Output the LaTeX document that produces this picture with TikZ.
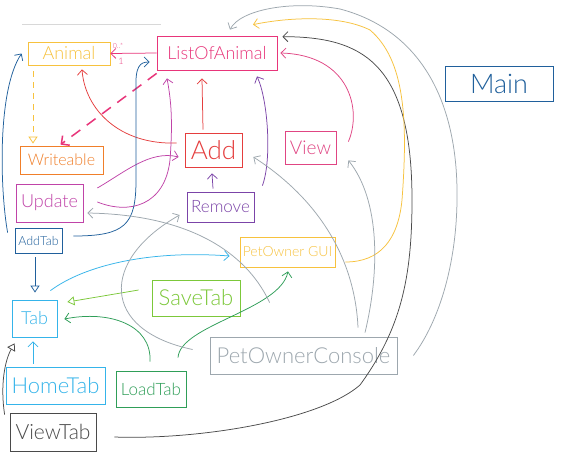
\documentclass[tikz,border=0pt]{standalone}
\usepackage{fontspec}
\IfFontExistsTF{Lato Light}{\setmainfont{Lato Light}}{\setmainfont{Lato}}
\usetikzlibrary{arrows.meta,calc}
\definecolor{cyel}{HTML}{F7C23E}
\definecolor{cpink}{HTML}{E8357A}
\definecolor{corange}{HTML}{F07F2A}
\definecolor{cmag}{HTML}{C043A8}
\definecolor{cdblue}{HTML}{20609C}
\definecolor{cred}{HTML}{E53E3E}
\definecolor{cpurple}{HTML}{7B44A8}
\definecolor{cview}{HTML}{E04583}
\definecolor{clblue}{HTML}{35B4EA}
\definecolor{clgreen}{HTML}{7CC83A}
\definecolor{cdgreen}{HTML}{2F9E58}
\definecolor{cgray}{HTML}{9DA7AE}
\definecolor{cdgray}{HTML}{4A4A4A}
\definecolor{cline}{HTML}{D8D8D8}
\newcommand\myfs[1]{\fontsize{#1}{#1}\selectfont}
\begin{document}
\begin{tikzpicture}[x=1pt,y=-1pt,
  box/.style={draw, rectangle, inner sep=0pt, line width=0.75pt},
  conn/.style={line width=0.75pt},
  barb/.style={-{Straight Barb[length=5pt,width=10pt,line width=0.75pt]}},
  tri/.style={-{Triangle[open,length=7pt,width=9pt,line width=0.75pt]}}]
\useasboundingbox[fill=white] (0,0) rectangle (569,466);
\draw[cline, line width=0.8pt] (22,24) -- (161,24);

% nodes
\node[box, draw=cyel, text=cyel, minimum width=82pt, minimum height=23pt, font=\myfs{18}] (an) at (69,53.5) {Animal};
\node[box, draw=cpink, text=cpink, minimum width=120pt, minimum height=34pt, font=\myfs{18}] (lst) at (217,53) {ListOfAnimal};
\node[box, draw=corange, text=corange, minimum width=83pt, minimum height=28pt, font=\myfs{16}] (wr) at (61.5,160) {Writeable};
\node[box, draw=cmag, text=cmag, minimum width=67pt, minimum height=38pt, font=\myfs{18}] (up) at (49.5,203) {Update};
\node[box, draw=cdblue, text=cdblue, minimum width=47pt, minimum height=25pt, font=\myfs{12.5}] (at) at (38.5,240.5) {AddTab};
\node[box, draw=cred, text=cred, minimum width=57pt, minimum height=34pt, font=\myfs{26}] (add) at (213.5,150) {Add};
\node[box, draw=cpurple, text=cpurple, minimum width=67pt, minimum height=30pt, font=\myfs{17}] (rm) at (220.5,207) {Remove};
\node[box, draw=cview, text=cview, minimum width=51pt, minimum height=33pt, font=\myfs{19}] (vw) at (310.5,147.5) {View};
\node[box, draw=cdblue, text=cdblue, minimum width=108pt, minimum height=35pt, font=\myfs{27}] (mn) at (499,83.5) {Main};
\node[box, draw=cyel, text=cyel, minimum width=95pt, minimum height=30pt, font=\myfs{14}] (gui) at (287.5,252) {PetOwner GUI};
\node[box, draw=clblue, text=clblue, minimum width=45pt, minimum height=37pt, font=\myfs{18}] (tab) at (34.5,318.5) {Tab};
\node[box, draw=clgreen, text=clgreen, minimum width=88pt, minimum height=36pt, font=\myfs{22}] (sv) at (196,298) {SaveTab};
\node[box, draw=cgray, text=cgray, minimum width=187pt, minimum height=37pt, font=\myfs{22}] (poc) at (303.5,355.5) {PetOwnerConsole};
\node[box, draw=clblue, text=clblue, minimum width=99pt, minimum height=37pt, font=\myfs{22}] (ht) at (55.5,385.5) {HomeTab};
\node[box, draw=cdgreen, text=cdgreen, minimum width=70pt, minimum height=36pt, font=\myfs{17}] (ld) at (151,389) {LoadTab};
\node[box, draw=cdgray, text=cdgray, minimum width=86pt, minimum height=38pt, font=\myfs{21}] (vt) at (53,432) {ViewTab};

% multiplicities
\node[text=cpink, font=\myfs{7}, inner sep=0pt] (m1) at (118,46) {0..*};
\node[text=cpink, font=\myfs{9}, inner sep=0pt] (m2) at (121,61) {1};

% connectors
\draw[conn, cpink, barb] (lst.west) -- (an.east);
\draw[conn, cyel, tri, dash pattern=on 6pt off 5pt] ($(an.south)+(-36,6)$) -- ($(wr.north)+(-28.5,-2)$);
\draw[conn, cpink, line width=1.5pt, dash pattern=on 11pt off 8pt, -{Straight Barb[length=6pt,width=12pt,line width=1.5pt]}] ($(lst.south west)+(0,3)$) -- ($(wr.north)+(-1,-1)$);
\draw[conn, cred, barb] ($(add.west)+(-8,-7)$) .. controls (120,145) and (85,110) .. ($(an.south)+(13,4)$);
\draw[conn, cred, barb] ($(add.north)+(-10.5,-3)$) -- ($(lst.south)+(-15,8)$);
\draw[conn, cpurple, barb] ($(rm.north)+(-7.5,-3)$) -- ($(add.south)+(-1.5,6)$);
\draw[conn, cpurple, barb] ($(rm.north east)+(8,-6)$) .. controls (272,160) and (268,100) .. ($(lst.south)+(40,6)$);
\draw[conn, cmag, barb] ($(up.east)+(14,-15)$) .. controls (125,172) and (150,150) .. ($(add.west)+(-6,7)$);
\draw[conn, cmag, barb] ($(up.east)+(14,-1)$) .. controls (130,215) and (165,205) .. (170,160) .. controls (173,120) and (171,100) .. ($(lst.south)+(-50,8)$);
\draw[conn, cdblue, barb] ($(at.north west)+(-7,5)$) .. controls (0,190) and (-3,90) .. ($(an.west)+(-6,0)$);
\draw[conn, cdblue, barb] ($(at.east)+(11,-4.5)$) .. controls (125,236) and (136,225) .. (136,180) -- (136,90) .. controls (135,66) and (140,62) .. ($(lst.west)+(-7,9)$);
\draw[conn, cdblue, tri] ($(at.south)+(-3.5,4)$) -- ($(tab.north)+(0.5,-7)$);
\draw[conn, clblue, barb] ($(ht.north)+(-22.5,-3)$) -- ($(tab.south)+(-1.5,4)$);
\draw[conn, clblue, barb] ($(tab.north east)+(-7,-9)$) .. controls (85,265) and (150,250) .. ($(gui.west)+(-10,4)$);
\draw[conn, clgreen, tri] ($(sv.west)+(-13,-8)$) -- ($(tab.east)+(10,-16.5)$);
\draw[conn, cdgreen, barb] ($(ld.north)+(-1,-9)$) .. controls (152,325) and (110,310) .. ($(tab.east)+(7,0.5)$);
\draw[conn, cdgreen, barb] ($(ld.north)+(27,-13)$) .. controls (180,325) and (280,310) .. ($(gui.south)+(0.5,4)$);
\draw[conn, cdgray, tri] ($(vt.north west)+(-5,2)$) .. controls (0,385) and (5,360) .. ($(tab.south west)+(3,6)$);
\draw[conn, cdgray, barb] ($(vt.east)+(18,5)$) .. controls (200,440) and (320,420) .. (360,385) .. controls (400,330) and (412,280) .. (412,200) .. controls (412,60) and (360,37) .. ($(lst.north east)+(5,1)$);
\draw[conn, cyel, barb] ($(gui.east)+(10,10)$) .. controls (380,262) and (398,240) .. (402,200) .. controls (408,120) and (405,60) .. (370,30) .. controls (340,15) and (290,17) .. ($(lst.north)+(36,-11)$);
\draw[conn, cgray, barb] ($(poc.east)+(16,0)$) .. controls (440,320) and (458,260) .. (457,190) .. controls (456,100) and (420,30) .. (340,9) .. controls (290,0) and (240,10) .. ($(lst.north)+(13,-6)$);
\draw[conn, cgray, barb] ($(poc.north)+(61.5,-4)$) .. controls (380,270) and (380,200) .. ($(vw.south east)+(12,-4)$);
\draw[conn, cgray, barb] ($(poc.north)+(54.5,-9)$) .. controls (355,260) and (320,200) .. ($(add.east)+(11,7)$);
\draw[conn, cgray, barb] ($(poc.north west)+(60,-34)$) .. controls (250,260) and (200,215) .. ($(up.east)+(4,10)$);
\draw[conn, cgray, barb] ($(poc.west)+(-17,-6)$) .. controls (100,330) and (100,260) .. ($(rm.west)+(-7,8)$);
\draw[conn, cview, barb] ($(vw.north east)+(12,11)$) .. controls (362,110) and (350,55) .. ($(lst.east)+(3,0)$);
\end{tikzpicture}
\end{document}
